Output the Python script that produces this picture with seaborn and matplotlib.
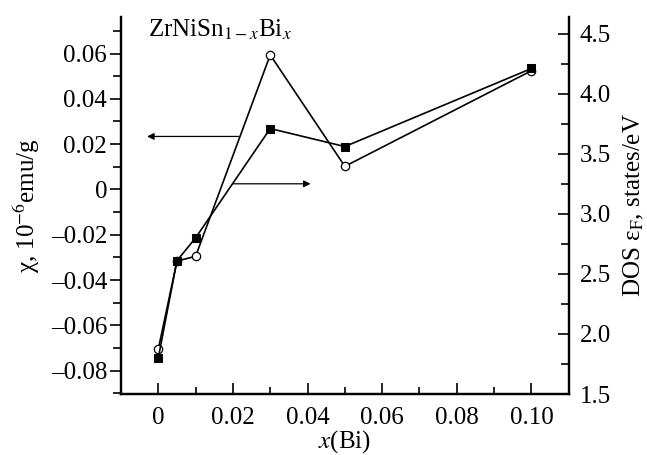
import matplotlib
matplotlib.use("Agg")
import matplotlib.pyplot as plt
import seaborn as sns
import pandas as pd
from matplotlib.ticker import MultipleLocator, FixedLocator, FuncFormatter

x_bi = [0.0, 0.005, 0.01, 0.03, 0.05, 0.10]
chi = [-0.0705, -0.0316, -0.0295, 0.0594, 0.0102, 0.0524]
dos = [1.80, 2.61, 2.80, 3.71, 3.56, 4.21]

sns.set_theme(style="ticks")
plt.rcParams['font.family'] = ['Liberation Serif', 'DejaVu Serif']
plt.rcParams['mathtext.fontset'] = 'stix'
for k in ('text.color', 'axes.labelcolor', 'xtick.color', 'ytick.color', 'axes.edgecolor'):
    plt.rcParams[k] = 'black'

df = pd.DataFrame({"x": x_bi, "chi": chi, "dos": dos})

fig = plt.figure(figsize=(6.47, 4.55), dpi=100)
ax = fig.add_axes([0.187, 0.134, 0.692, 0.829])
ax2 = ax.twinx()

sns.lineplot(data=df, x="x", y="chi", ax=ax, color="black", lw=1.2,
             marker="o", markersize=6, markerfacecolor="white",
             markeredgecolor="black", markeredgewidth=0.9, zorder=3)
sns.lineplot(data=df, x="x", y="dos", ax=ax2, color="black", lw=1.2,
             marker="s", markersize=5.5, markerfacecolor="black",
             markeredgecolor="black", zorder=3)

ax.set_xlim(-0.01, 0.11)
ax.set_ylim(-0.0903, 0.0762)
ax2.set_ylim(1.5, 4.64)

ax.xaxis.set_major_locator(FixedLocator([0, 0.02, 0.04, 0.06, 0.08, 0.10]))
ax.xaxis.set_minor_locator(FixedLocator([-0.01, 0.01, 0.03, 0.05, 0.07, 0.09, 0.11]))
ax.xaxis.set_major_formatter(FuncFormatter(lambda v, p: "0" if abs(v) < 1e-9 else f"{v:.2f}"))
ax.yaxis.set_major_locator(FixedLocator([-0.08, -0.06, -0.04, -0.02, 0, 0.02, 0.04, 0.06]))
ax.yaxis.set_minor_locator(FixedLocator([-0.09, -0.07, -0.05, -0.03, -0.01, 0.01, 0.03, 0.05, 0.07]))
ax.yaxis.set_major_formatter(FuncFormatter(lambda v, p: "0" if abs(v) < 1e-9 else f"{v:.2f}".replace("-", "\u2013")))
ax2.yaxis.set_major_locator(MultipleLocator(0.5))
ax2.yaxis.set_minor_locator(MultipleLocator(0.25))
ax2.yaxis.set_major_formatter(FuncFormatter(lambda v, p: f"{v:.1f}"))

fs = 18
ax.tick_params(axis='y', which='major', direction='out', length=8, width=1.2, labelsize=fs, pad=2)
ax.tick_params(axis='y', which='minor', direction='out', length=6, width=1.2)
ax.tick_params(axis='x', which='major', direction='in', length=8, width=1.2, labelsize=fs, pad=9)
ax.tick_params(axis='x', which='minor', direction='in', length=5, width=1.2)
ax2.tick_params(axis='y', which='major', direction='in', length=8, width=1.2, labelsize=fs, pad=8)
ax2.tick_params(axis='y', which='minor', direction='in', length=6, width=1.2)

for a in (ax, ax2):
    a.spines['top'].set_visible(False)
    for s in ('left', 'right', 'bottom'):
        a.spines[s].set_linewidth(1.6)

ax.set_xlabel("$x$(Bi)", fontsize=fs, labelpad=0)
ax.set_ylabel("χ, 10$^{-6}$emu/g", fontsize=fs, labelpad=6)
ax2.set_ylabel("DOS ε$_\\mathrm{F}$, states/eV", fontsize=fs, labelpad=8)

ax.text(-0.0027, 0.0705, "ZrNiSn$_{1-x}$Bi$_x$", fontsize=18, ha="left", va="center")

ax.annotate("", xy=(-0.003, 0.0234), xytext=(0.0215, 0.0234),
            arrowprops=dict(arrowstyle="-|>", color="black", lw=0.9,
                            mutation_scale=10, shrinkA=0, shrinkB=0))
ax.annotate("", xy=(0.0408, 0.0025), xytext=(0.0201, 0.0025),
            arrowprops=dict(arrowstyle="-|>", color="black", lw=0.9,
                            mutation_scale=10, shrinkA=0, shrinkB=0))

fig.savefig("out.png", dpi=100)
